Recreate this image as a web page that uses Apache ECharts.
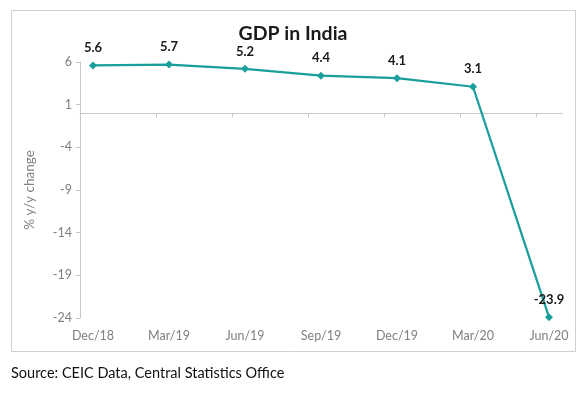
<!DOCTYPE html>
<html><head><meta charset="utf-8">
<script src="https://cdn.jsdelivr.net/npm/echarts@6/dist/echarts.min.js"></script>
<style>html,body{margin:0;padding:0;background:#fff}#c{width:586px;height:399px}</style>
</head><body><div id="c"></div>
<script>
var categories = ['Dec/18','Mar/19','Jun/19','Sep/19','Dec/19','Mar/20','Jun/20'];
var gdpGrowth = [5.6, 5.7, 5.2, 4.4, 4.1, 3.1, -23.9];
var yTicks = {min: -24, max: 6, step: 5};
var titleText = 'GDP in India';
var yAxisName = '% y/y change';
var sourceText = 'Source: CEIC Data, Central Statistics Office';

var FONT = 'Lato, "Open Sans", sans-serif';
var chart = echarts.init(document.getElementById('c'), null, {renderer: 'canvas'});
chart.setOption({
  animation: false,
  backgroundColor: '#fff',
  title: {text: titleText, left: 'center', top: 19,
    textStyle: {fontFamily: FONT, fontSize: 19.5, fontWeight: 'bold', color: '#1a1a1a'}},
  graphic: [
    {type: 'rect', shape: {x: 11.5, y: 10.5, width: 564, height: 341},
      style: {fill: 'none', stroke: '#d0d0d0', lineWidth: 1}, silent: true},
    {type: 'text', left: 11, top: 366,
      style: {text: sourceText, font: '14.5px ' + FONT, fill: '#111'}}
  ],
  grid: [
    {left: 93, right: 37, top: 62, bottom: 81},
    {left: 80, right: 24, top: 62, bottom: 81}
  ],
  xAxis: [
    {type: 'category', gridIndex: 0, data: categories, boundaryGap: false,
      axisLine: {show: false, onZero: false}, axisTick: {show: false},
      axisLabel: {color: '#808080', fontFamily: FONT, fontSize: 12.5, margin: 11},
      splitLine: {show: false}},
    {type: 'value', gridIndex: 1, min: 0, max: 482 / 76, interval: 1,
      axisLine: {show: true, onZero: true, lineStyle: {color: '#c8c8c8', width: 1}},
      axisTick: {show: true, length: 4, inside: false, customValues: [0,1,2,3,4,5,6],
        lineStyle: {color: '#c8c8c8'}},
      axisLabel: {show: false}, splitLine: {show: false}}
  ],
  yAxis: [
    {type: 'value', gridIndex: 0, min: yTicks.min, max: yTicks.max, interval: yTicks.step,
      offset: 13,
      name: yAxisName, nameLocation: 'middle', nameRotate: 90, nameGap: 43,
      nameTextStyle: {color: '#808080', fontFamily: FONT, fontSize: 13.5},
      axisLine: {show: true, lineStyle: {color: '#c8c8c8'}},
      axisTick: {show: true, length: 4, lineStyle: {color: '#c8c8c8'}},
      axisLabel: {color: '#808080', fontFamily: FONT, fontSize: 12.5, margin: 8},
      splitLine: {show: false}},
    {type: 'value', gridIndex: 1, min: yTicks.min, max: yTicks.max, interval: yTicks.step,
      show: false, splitLine: {show: false}}
  ],
  series: [{
    type: 'line', xAxisIndex: 0, yAxisIndex: 0, data: gdpGrowth,
    symbol: 'diamond', symbolSize: 8,
    lineStyle: {color: '#1a9e9b', width: 2.25},
    itemStyle: {color: '#1a9e9b'},
    label: {show: true, position: 'top', distance: 7,
      fontFamily: FONT, fontSize: 13, fontWeight: 'bold', color: '#1a1a1a'}
  }]
});
</script></body></html>
